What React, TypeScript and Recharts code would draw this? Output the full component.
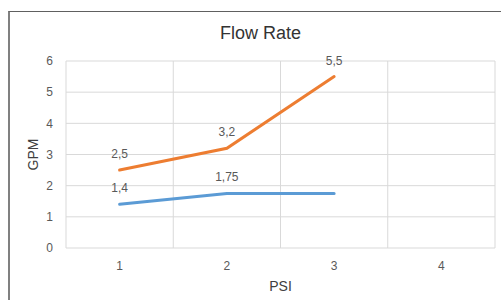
import React from 'react';
import { LineChart, Line, XAxis, YAxis, CartesianGrid, LabelList, Label } from 'recharts';

const psiValues = [1, 2, 3];
const gpmBlue = [1.4, 1.75, 1.75];
const gpmOrange = [2.5, 3.2, 5.5];
const blueLabelShown = [true, true, false];
const xTicks = [1, 2, 3, 4];
const xGridTicks = [0.5, 1.5, 2.5, 3.5, 4.5];
const yTicks = [0, 1, 2, 3, 4, 5, 6];
const title = 'Flow Rate';
const xTitle = 'PSI';
const yTitle = 'GPM';

const fmt = (v: number) => String(v).replace('.', ',');

const data = psiValues.map((p, i) => ({
  psi: p,
  blue: gpmBlue[i],
  orange: gpmOrange[i],
  blueLabel: blueLabelShown[i] ? fmt(gpmBlue[i]) : '',
  orangeLabel: fmt(gpmOrange[i]),
}));

const FONT = '"Liberation Sans", Arial, sans-serif';

export default function App() {
  return (
    <div
      style={{
        position: 'absolute',
        left: 8,
        top: 11,
        width: 493,
        height: 289,
        boxSizing: 'border-box',
        borderLeft: '2px solid #808080',
        borderTop: '1px solid #606060',
        background: '#fff',
        fontFamily: FONT,
        overflow: 'hidden',
      }}
    >
      <div
        style={{
          position: 'absolute',
          top: 12,
          left: 5,
          width: '100%',
          textAlign: 'center',
          fontSize: 18,
          lineHeight: '18px',
          color: '#333333',
        }}
      >
        {title}
      </div>
      <LineChart
        width={491}
        height={288}
        data={data}
        margin={{ top: 49, right: 6, bottom: 0, left: 0 }}
        style={{ fontFamily: FONT }}
      >
        <XAxis xAxisId="grid" type="number" dataKey="psi" domain={[0.5, 4.5]} ticks={xGridTicks} hide />
        <CartesianGrid xAxisId="grid" stroke="#d9d9d9" strokeWidth={1} />
        <XAxis
          type="number"
          dataKey="psi"
          domain={[0.5, 4.5]}
          ticks={xTicks}
          axisLine={false}
          tickLine={false}
          tickSize={6}
          tickMargin={7}
          height={52}
          tick={{ fill: '#595959', fontSize: 12 }}
        >
          <Label value={xTitle} position="insideBottom" offset={9} fill="#404040" fontSize={14} />
        </XAxis>
        <YAxis
          type="number"
          domain={[0, 6]}
          ticks={yTicks}
          axisLine={false}
          tickLine={false}
          tickSize={6}
          tickMargin={7}
          width={56}
          tick={{ fill: '#595959', fontSize: 12 }}
        >
          <Label
            value={yTitle}
            angle={-90}
            position="insideLeft"
            offset={23}
            fill="#404040"
            fontSize={14}
            style={{ textAnchor: 'middle' }}
          />
        </YAxis>
        <Line
          type="linear"
          dataKey="blue"
          stroke="#5B9BD5"
          strokeWidth={3}
          strokeLinecap="round"
          dot={false}
          isAnimationActive={false}
        >
          <LabelList dataKey="blueLabel" position="top" offset={12} fill="#595959" fontSize={12} />
        </Line>
        <Line
          type="linear"
          dataKey="orange"
          stroke="#ED7D31"
          strokeWidth={3}
          strokeLinecap="round"
          dot={false}
          isAnimationActive={false}
        >
          <LabelList dataKey="orangeLabel" position="top" offset={12} fill="#595959" fontSize={12} />
        </Line>
      </LineChart>
    </div>
  );
}
